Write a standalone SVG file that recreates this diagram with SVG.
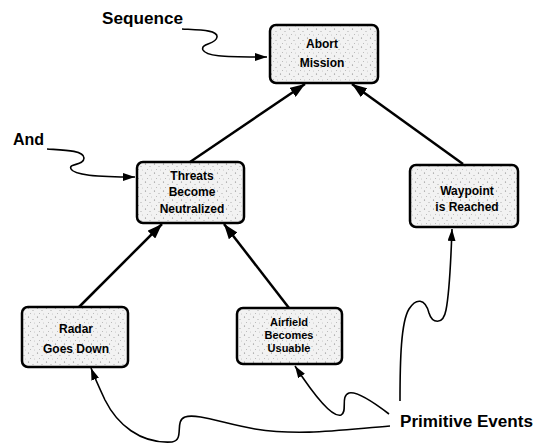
<svg xmlns="http://www.w3.org/2000/svg" width="535" height="443" viewBox="0 0 535 443">
<defs>
<pattern id="stipple" width="9" height="9" patternUnits="userSpaceOnUse">
<rect width="9" height="9" fill="#f2f2f2"/>
<circle cx="1.5" cy="2" r="0.6" fill="#777"/>
<circle cx="6" cy="4.5" r="0.5" fill="#999"/>
<circle cx="3.5" cy="7.5" r="0.5" fill="#aaa"/>
<circle cx="7.5" cy="8" r="0.4" fill="#999"/>
</pattern>
<marker id="big" viewBox="0 0 15 11" refX="15" refY="5.5" markerWidth="15" markerHeight="11" markerUnits="userSpaceOnUse" orient="auto">
<path d="M0,0 L15,5.5 L0,11 z" fill="#000"/>
</marker>
<marker id="small" viewBox="0 0 12 8" refX="12" refY="4" markerWidth="12" markerHeight="8" markerUnits="userSpaceOnUse" orient="auto">
<path d="M0,0 L12,4 L0,8 z" fill="#000"/>
</marker>
</defs>
<style>
.box{fill:url(#stipple);stroke:#000;stroke-width:2.5}
.nt{font-family:"Liberation Sans",Arial,sans-serif;font-weight:bold;font-size:12px;text-anchor:middle;fill:#000}
.sm{font-size:11px}
.lbl{font-family:"Liberation Sans",Arial,sans-serif;font-weight:bold;font-size:16px;fill:#000}
.edge{stroke:#000;stroke-width:2.5;fill:none;marker-end:url(#big)}
.curve{stroke:#000;stroke-width:1.6;fill:none;marker-end:url(#small)}
</style>
<rect width="535" height="443" fill="#fff"/>
<g id="connectors">
<line class="edge" x1="190" y1="162" x2="305" y2="84"/>
<line class="edge" x1="463" y1="164" x2="352" y2="84"/>
<line class="edge" x1="79" y1="307" x2="162" y2="224"/>
<line class="edge" x1="289" y1="308" x2="224" y2="224"/>
<path class="curve" d="M182,29 C200,30 218,30 217,37 C216,45 200,43 203,50 C206,56 220,57 267,57"/>
<path class="curve" d="M47,149 C62,150 84,150 84,158 C84,166 68,163 71,169 C74,175 95,177 135,177"/>
<path class="curve" d="M400,401 C400,360 401,322 409,309 C416,298 425,298 429,313 C432,323 443,326 446,310 C450,290 451,255 452,229"/>
<path class="curve" d="M389,414 C372,401 357,391 349,393 C340,396 348,412 341,415 C332,418 312,392 295,366"/>
<path class="curve" d="M390,426 C340,430 300,436 255,429 C225,424 197,413 185,417 C174,421 185,440 172,442 C140,444 117,424 105,400 C98,385 94,376 91,368"/>
</g>
<g id="abort-mission">
<rect class="box" x="270" y="25" width="108" height="58" rx="6"/>
<text class="nt" x="322" y="48">Abort</text>
<text class="nt" x="322" y="67">Mission</text>
</g>
<g id="threats-become-neutralized">
<rect class="box" x="137" y="162" width="107" height="61" rx="6"/>
<text class="nt" x="192" y="180">Threats</text>
<text class="nt" x="192" y="196">Become</text>
<text class="nt" x="192" y="213">Neutralized</text>
</g>
<g id="waypoint-is-reached">
<rect class="box" x="410" y="165" width="108" height="62" rx="6"/>
<text class="nt" x="467" y="195">Waypoint</text>
<text class="nt" x="467" y="211">is Reached</text>
</g>
<g id="radar-goes-down">
<rect class="box" x="22" y="307" width="106" height="60" rx="6"/>
<text class="nt" x="76" y="333">Radar</text>
<text class="nt" x="76" y="353">Goes Down</text>
</g>
<g id="airfield-becomes-usuable">
<rect class="box" x="237" y="308" width="105" height="56" rx="6"/>
<text class="nt sm" x="289" y="326">Airfield</text>
<text class="nt sm" x="289" y="339">Becomes</text>
<text class="nt sm" x="289" y="352">Usuable</text>
</g>
<g id="labels">
<text class="lbl" x="102" y="24" textLength="81" lengthAdjust="spacingAndGlyphs">Sequence</text>
<text class="lbl" x="13" y="145">And</text>
<text class="lbl" x="400" y="427" textLength="133" lengthAdjust="spacingAndGlyphs">Primitive Events</text>
</g>
</svg>
